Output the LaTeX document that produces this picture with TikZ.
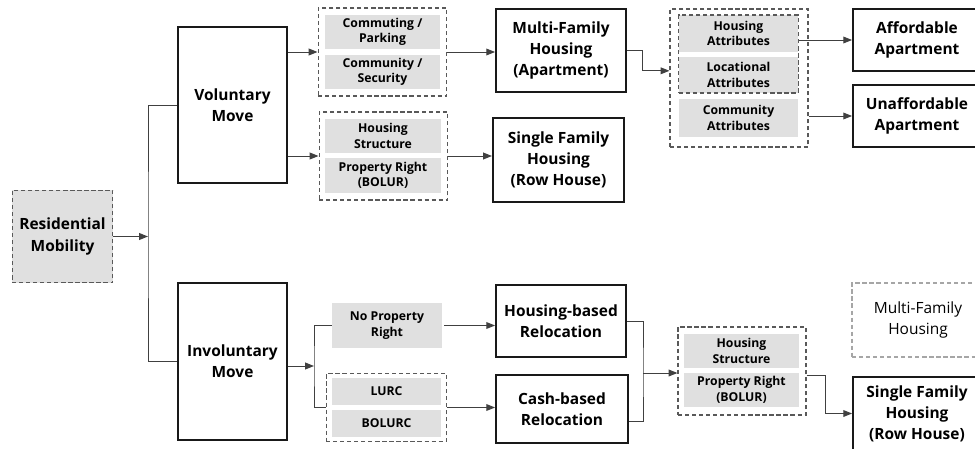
\documentclass[tikz,border=0pt]{standalone}
\usepackage{fontspec}
\setmainfont{Open Sans}
\usepackage{tikz}
\usetikzlibrary{positioning, arrows.meta}
\tikzstyle{Box} = [rectangle, draw=black!90, line width=1.3pt, fill=white, align=center, inner sep=0pt, font=\bfseries\fontsize{11}{15}\selectfont]
\tikzstyle{Factor} = [rectangle, fill=black!12, align=center, inner sep=0pt, font=\bfseries\fontsize{8.7}{11}\selectfont]
\tikzstyle{Group} = [rectangle, draw=black!65, line width=0.8pt, dash pattern=on 3pt off 2pt, inner sep=0pt]
\tikzstyle{Link} = [draw=black!75, line width=0.7pt]
\tikzstyle{Arrow} = [Link, -{Triangle[length=2.2mm, width=1.7mm]}]

\begin{document}
\begin{tikzpicture}[x=0.025cm, y=-0.025cm]
    \clip (0,0) rectangle (975,448);

    %%%%%%%%%%%%%%%%%%%%%%
    \node[Box, Group, fill=black!12, minimum width=2.52cm, minimum height=2.32cm] (resid) at (62.5,236.5) {Residential\\Mobility};
    \coordinate (trunk) at (148,236.5);

    \node[Box, minimum width=2.72cm, minimum height=3.9cm] (volun) at (232.5,105) {Voluntary\\Move};
    \node[Box, minimum width=2.72cm, minimum height=3.92cm] (invol) at (232.5,361.5) {Involuntary\\Move};

    \draw[Arrow] (resid.east) -- (trunk);
    \draw[Link] (volun.west) -| (trunk) |- (invol.west);

    %%%%%%%%%%%%%%%%%%%%%%
    \node[Group, minimum width=3.22cm, minimum height=2.2cm] (vgroup1) at (382.5,52) {};
    \node[Factor, minimum width=2.88cm, minimum height=0.85cm] (commute) at (382.5,32) {Commuting /\\Parking};
    \node[Factor, minimum width=2.88cm, minimum height=0.85cm] (commun) at (382.5,72) {Community /\\Security};

    \node[Group, minimum width=3.22cm, minimum height=2.2cm] (vgroup2) at (383.5,156) {};
    \node[Factor, minimum width=2.9cm, minimum height=0.85cm] (hstruct) at (383,136) {Housing\\Structure};
    \node[Factor, minimum width=2.9cm, minimum height=0.87cm] (pright) at (383,175.5) {Property Right\\(BOLUR)};

    \node[Box, minimum width=3.25cm, minimum height=2.08cm] (multi) at (561,50.5) {Multi-Family\\Housing\\(Apartment)};
    \node[Box, minimum width=3.28cm, minimum height=2.1cm] (single) at (558.5,160) {Single Family\\Housing\\(Row House)};

    \draw[Arrow] (volun.east |- vgroup1) -- (vgroup1.west);
    \draw[Arrow] (volun.east |- vgroup2) -- (vgroup2.west);
    \draw[Arrow] (vgroup1.east) -- (multi.west |- vgroup1.east);
    \draw[Arrow] (vgroup2.east) -- (single.west |- vgroup2.east);

    %%%%%%%%%%%%%%%%%%%%%%
    \node[Group, minimum width=3.45cm, minimum height=3.45cm] (attrs) at (739,78) {};
    \node[Factor, minimum width=2.98cm, minimum height=0.92cm] (hattr) at (738.5,33.5) {Housing\\Attributes};
    \node[Factor, minimum width=2.98cm, minimum height=0.9cm] (lattr) at (738.5,75) {Locational\\Attributes};
    \node[Group, minimum width=2.98cm, minimum height=1.95cm] (attrin) at (738.5,54) {};
    \node[Factor, minimum width=2.98cm, minimum height=0.95cm] (cattr) at (738.5,118) {Community\\Attributes};

    \node[Box, minimum width=3.2cm, minimum height=1.55cm] (afford) at (917,40) {Affordable\\Apartment};
    \node[Box, minimum width=3.2cm, minimum height=1.55cm] (unafford) at (917,116) {Unaffordable\\Apartment};

    \draw[Arrow] (multi.east) -- ++(16,0) |- ([yshift=0.18cm]attrs.west);
    \draw[Arrow] (attrin.east |- afford.west) -- (afford.west);
    \draw[Arrow] (attrs.east |- unafford.west) -- (unafford.west);

    %%%%%%%%%%%%%%%%%%%%%%
    \coordinate (fork) at (314,366);
    \node[Factor, minimum width=2.75cm, minimum height=1.12cm] (noprop) at (387,325.5) {No Property\\Right};
    \node[Group, minimum width=3.02cm, minimum height=1.68cm] (lgroup) at (386.5,407.5) {};
    \node[Factor, minimum width=2.72cm, minimum height=0.68cm] (lurc) at (386.5,391.5) {LURC};
    \node[Factor, minimum width=2.72cm, minimum height=0.68cm] (bolurc) at (386.5,423.5) {BOLURC};

    \node[Box, minimum width=3.25cm, minimum height=1.8cm] (hbased) at (561,321) {Housing-based\\Relocation};
    \node[Box, minimum width=3.3cm, minimum height=1.7cm] (cbased) at (562,409) {Cash-based\\Relocation};

    \draw[Arrow] (invol.east |- fork) -- (fork);
    \draw[Link] (noprop.west) -| (fork) |- (lgroup.west);
    \draw[Arrow] ([xshift=0.05cm]noprop.east) -- (hbased.west |- noprop.east);
    \draw[Arrow] (lgroup.east) -- (cbased.west |- lgroup.east);

    %%%%%%%%%%%%%%%%%%%%%%
    \coordinate (merge) at (643,373);
    \node[Group, minimum width=3.2cm, minimum height=2.2cm] (igroup) at (742,371) {};
    \node[Factor, minimum width=2.88cm, minimum height=0.85cm] (hstruct2) at (741.5,351) {Housing\\Structure};
    \node[Factor, minimum width=2.88cm, minimum height=0.85cm] (pright2) at (741.5,390) {Property Right\\(BOLUR)};

    \node[rectangle, draw=black!35, line width=0.8pt, dash pattern=on 3pt off 2pt, align=center, font=\fontsize{11}{15}\selectfont, minimum width=3.3cm, minimum height=1.85cm] (mfh) at (918,320) {Multi-Family\\Housing};
    \node[Box, minimum width=3.2cm, minimum height=1.83cm] (sfh) at (917,413.5) {Single Family\\Housing\\(Row House)};

    \draw[Link] (hbased.east) -| (merge) |- ([yshift=-0.3cm]cbased.east);
    \draw[Arrow] (merge) -- (igroup.west |- merge);
    \draw[Arrow] ([yshift=-0.1cm]igroup.east) -- ++(19,0) |- (sfh.west);

\end{tikzpicture}
\end{document}
